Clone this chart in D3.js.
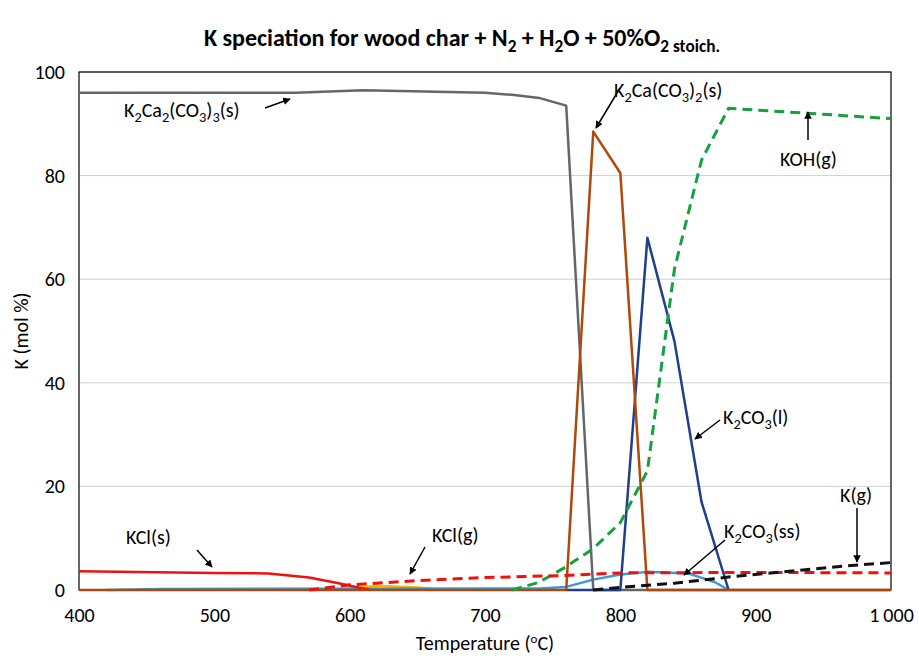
<!DOCTYPE html><html><head><meta charset="utf-8"><script src="https://cdn.jsdelivr.net/npm/d3@7"></script>
<style>body{margin:0;background:#fff}text{font-family:Carlito,Calibri,"Open Sans","Liberation Sans",sans-serif}</style></head><body><svg id="c" width="919" height="659"></svg><script>
const xTicks=[400,500,600,700,800,900,1000];
const yTicks=[0,20,40,60,80,100];
const k2ca2=[[400,96],[560,96],[610,96.5],[700,96],[720,95.6],[740,95],[760,93.5],[780,0],[1000,0]];
const k2ca=[[400,0],[760,0],[780,88.5],[800,80.5],[820,0],[1000,0]];
const k2co3l=[[760,0],[800,0],[820,68],[840,48],[860,17],[880,0]];
const koh=[[720,0],[740,1.5],[760,4.5],[780,8],[800,13],[820,23],[840,62],[860,83],[880,93],[940,92],[1000,91]];
const kcls=[[400,3.6],[500,3.3],[540,3.2],[570,2.4],[590,1.4],[615,0]];
const kclg=[[570,0],[600,1],[650,1.8],[700,2.4],[760,2.8],[800,3.3],[900,3.4],[1000,3.3]];
const kg=[[780,0],[800,0.5],[840,1.3],[880,2.5],[920,3.5],[960,4.5],[1000,5.3]];
const k2co3ss=[[420,0],[460,0.2],[740,0.3],[760,0.6],[780,2],[800,3],[820,3.5],[850,3.2],[870,1.5],[880,0]];
const orange=[[590,0],[620,0.8],[650,0.5],[670,0]];
const svg=d3.select("#c");
const x=d3.scaleLinear().domain([400,1000]).range([79,891]);
const y=d3.scaleLinear().domain([0,100]).range([590,72]);
yTicks.slice(1).forEach(t=>svg.append("line").attr("x1",79).attr("x2",891).attr("y1",y(t)).attr("y2",y(t)).attr("stroke","#d0d0d0").attr("stroke-width",1));
svg.append("rect").attr("x",79).attr("y",72).attr("width",812).attr("height",518).attr("fill","none").attr("stroke","#000").attr("stroke-width",1.2);
const xa=svg.append("g").attr("transform","translate(0,590)").call(d3.axisBottom(x).tickValues(xTicks).tickSize(0).tickPadding(18).tickFormat(d=>d===1000?"1\u2009000":d));
xa.select(".domain").remove();
const ya=svg.append("g").attr("transform","translate(79,0)").call(d3.axisLeft(y).tickValues(yTicks).tickSize(0).tickPadding(14));
ya.select(".domain").remove();
svg.selectAll("g").attr("font-family",null);
svg.selectAll(".tick text").attr("font-size",20).attr("fill","#000");
const line=d3.line().x(d=>x(d[0])).y(d=>y(d[1]));
function L(data,col,w,dash){svg.append("path").datum(data).attr("d",line).attr("fill","none").attr("stroke",col).attr("stroke-width",w).attr("stroke-dasharray",dash||null).attr("stroke-linejoin","round");}
L(orange,"#f5b800",2.5);
L(k2co3ss,"#3a9ad9",2.5);
L(kcls,"#ee1111",2.5);
L(k2ca2,"#666",2.5);
L(k2co3l,"#1f3f8a",2.5);
L(k2ca,"#b0480a",2.5);
L(koh,"#16a040",3,"10,6");
L(kclg,"#ee1111",3,"10,6");
L(kg,"#111",3,"10,6");
svg.append("defs").append("marker").attr("id","ar").attr("viewBox","0 0 10 10").attr("refX",9).attr("refY",5).attr("markerWidth",5).attr("markerHeight",5).attr("orient","auto").append("path").attr("d","M0,0L10,5L0,10z").attr("fill","#000");
function A(x1,y1,x2,y2){svg.append("line").attr("x1",x1).attr("y1",y1).attr("x2",x2).attr("y2",y2).attr("stroke","#000").attr("stroke-width",1.5).attr("marker-end","url(#ar)");}
function T(xx,yy,parts,size,anchor,bold){const t=svg.append("text").attr("x",xx).attr("y",yy).attr("font-size",size).attr("text-anchor",anchor||"start").attr("font-weight",bold?"bold":null);
 let low=false;parts.forEach(p=>{const s=p.startsWith("_");const sp=t.append("tspan").text(s?p.slice(1):p);
  if(s&&!low){sp.attr("dy",size*0.25);low=true;}else if(!s&&low){sp.attr("dy",-size*0.25);low=false;}
  if(s)sp.attr("font-size",size*0.72);});return t;}
T(124,117,["K","_2","Ca","_2","(CO","_3",")","_3","(s)"],20);A(265,108,290,99);
T(614,97,["K","_2","Ca(CO","_3",")","_2","(s)"],20);A(620,88,596,128);
T(780,166,["KOH(g)"],20);A(808,140,808,112);
T(723,424,["K","_2","CO","_3","(l)"],20);A(720,420,695,439);
T(840,502,["K(g)"],20);A(857,508,857,562);
T(724,538,["K","_2","CO","_3","(ss)"],20);A(725,540,684,575);
T(126,544,["KCl(s)"],20);A(197,550,212,567);
T(432,542,["KCl(g)"],20);A(425,547,410,574);
T(462,46,["K speciation for wood char + N","_2"," + H","_2","O + 50%O","_2 stoich."],24,"middle",true);
svg.append("text").attr("x",485).attr("y",650).attr("text-anchor","middle").attr("font-size",20).html(`Temperature (<tspan dy="-7" font-size="13">o</tspan><tspan dy="7">C)</tspan>`);
svg.append("text").attr("transform","translate(28,331) rotate(-90)").attr("text-anchor","middle").attr("font-size",20).text("K (mol %)");
</script></body></html>
